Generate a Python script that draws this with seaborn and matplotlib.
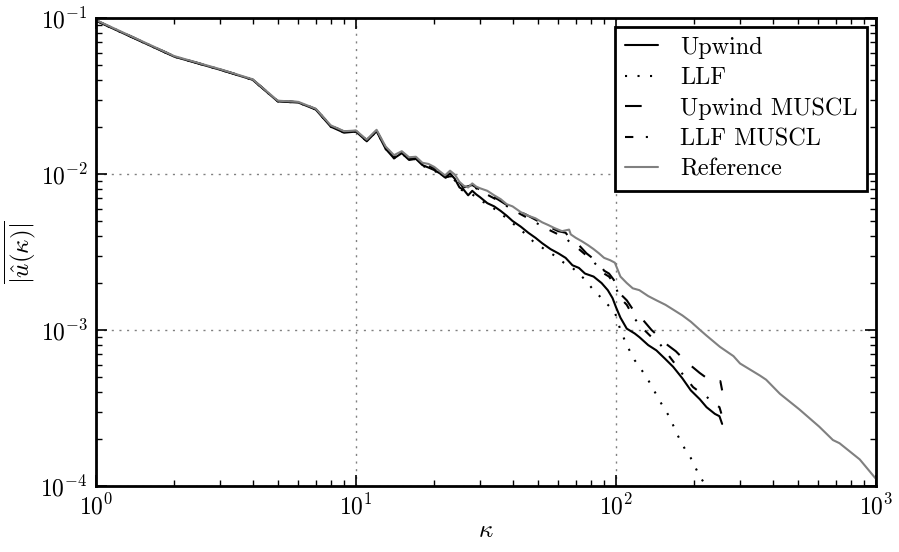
import matplotlib
matplotlib.use("Agg")
import matplotlib.pyplot as plt
import seaborn as sns
import numpy as np
import pandas as pd

# ---------------- data ----------------
k_ref = [1, 2, 3, 4, 5, 6, 7, 8, 9, 10, 11, 12, 13, 14, 15, 16, 17, 18, 19, 20,
         21, 22, 23, 24, 25, 26, 27, 28, 29, 30, 32, 34, 36, 38, 40, 43, 46, 49,
         52, 55, 58, 62, 66, 67, 70, 74, 78, 82, 86, 90, 95, 99, 104, 110, 116,
         123, 133, 143, 155, 166, 180, 194, 212, 223, 251, 283, 300, 358, 378,
         427, 507, 605, 683, 724, 866, 978, 1000]
u_ref = [0.097, 0.057, 0.047, 0.0405, 0.0295, 0.029, 0.0262, 0.0205, 0.0188,
         0.019, 0.0166, 0.0192, 0.0150, 0.0132, 0.0140, 0.0128, 0.0129, 0.0118,
         0.0116, 0.0111, 0.0104, 0.0098, 0.0105, 0.0099, 0.0089, 0.0084, 0.0082,
         0.0087, 0.0083, 0.0081, 0.0078, 0.0073, 0.0069, 0.0064, 0.0062, 0.0057,
         0.0054, 0.0052, 0.0049, 0.0047, 0.0045, 0.0043, 0.0044, 0.0041, 0.0039,
         0.0037, 0.0035, 0.0033, 0.0031, 0.0029, 0.0028, 0.0027, 0.0022, 0.0020,
         0.00185, 0.0018, 0.00165, 0.00155, 0.00145, 0.00135, 0.00124, 0.00113,
         0.00099, 0.00092, 0.00078, 0.00068, 0.00061, 0.00051, 0.00048, 0.00039,
         0.00031, 0.00024, 0.000197, 0.000188, 0.000148, 0.000116, 0.000111]

k_upw = [1, 2, 3, 4, 5, 6, 7, 8, 9, 10, 11, 12, 13, 14, 15, 16, 17, 18, 19, 20,
         21, 22, 23, 24, 25, 26, 27, 28, 29, 30, 32, 34, 36, 38, 40, 43, 46, 49,
         52, 56, 60, 64, 68, 72, 76, 82, 88, 93, 97, 100, 104, 110, 118, 123,
         133, 143, 155, 166, 180, 194, 210, 223, 240, 250, 256]
u_upw = [0.096, 0.0565, 0.0466, 0.0402, 0.0292, 0.0287, 0.0259, 0.0201, 0.0184,
         0.0187, 0.0162, 0.0188, 0.0145, 0.0126, 0.0136, 0.0123, 0.0125, 0.0114,
         0.0110, 0.0106, 0.0101, 0.0095, 0.0101, 0.0093, 0.0082, 0.0079, 0.0073,
         0.0078, 0.0074, 0.0071, 0.0065, 0.0062, 0.0058, 0.0054, 0.0050, 0.0046,
         0.0042, 0.0039, 0.0036, 0.0033, 0.0031, 0.0029, 0.0026, 0.0025, 0.0023,
         0.0022, 0.0020, 0.0018, 0.0016, 0.0014, 0.0012, 0.00102, 0.00095,
         0.00090, 0.00080, 0.00074, 0.00065, 0.00058, 0.00049, 0.00041, 0.00036,
         0.00032, 0.00029, 0.00028, 0.00025]

k_llf = [1, 2, 3, 4, 5, 6, 7, 8, 9, 10, 11, 12, 13, 14, 15, 16, 17, 18, 19, 20,
         21, 22, 23, 24, 25, 28, 30, 33, 36, 39, 43, 48, 53, 58, 63, 68, 72, 76,
         82, 88, 92, 99, 104, 110, 118, 131, 149, 160, 173, 185, 194, 205, 214,
         222]
u_llf = [0.096, 0.0565, 0.0466, 0.0402, 0.0292, 0.0287, 0.0259, 0.0201, 0.0184,
         0.0187, 0.0162, 0.0188, 0.0145, 0.0126, 0.0136, 0.0123, 0.0125, 0.0113,
         0.0109, 0.0105, 0.0100, 0.0094, 0.0099, 0.0091, 0.0080, 0.0074, 0.0068,
         0.0062, 0.0056, 0.0050, 0.0044, 0.0037, 0.0033, 0.0030, 0.0027, 0.0025,
         0.0023, 0.0021, 0.0018, 0.0016, 0.00148, 0.0013, 0.0010, 0.00080,
         0.00064, 0.00050, 0.00034, 0.00028, 0.00021, 0.00017, 0.000151,
         0.000125, 0.00011, 0.0000995]

k_umu = [1, 2, 3, 4, 5, 6, 7, 8, 9, 10, 11, 12, 13, 14, 15, 16, 17, 18, 19, 20,
         22, 24, 26, 28, 30, 35, 40, 45, 50, 55, 60, 64, 68, 72, 77, 81, 86, 90,
         94, 98, 104, 110, 118, 127, 137, 147, 158, 170, 182, 192, 210, 228,
         245, 252, 256]
u_umu = [0.0965, 0.0568, 0.0468, 0.0404, 0.0294, 0.0289, 0.0261, 0.0204,
         0.0187, 0.0189, 0.0165, 0.0190, 0.0148, 0.0130, 0.0138, 0.0126, 0.0127,
         0.0116, 0.0113, 0.0109, 0.0096, 0.0097, 0.0082, 0.0085, 0.0079, 0.0069,
         0.0060, 0.0055, 0.0050, 0.0046, 0.0043, 0.0042, 0.0037, 0.0035, 0.0031,
         0.0029, 0.0027, 0.0024, 0.0023, 0.0021, 0.0017, 0.00155, 0.00130,
         0.00116, 0.00100, 0.00090, 0.00080, 0.00073, 0.00065, 0.00060, 0.00053,
         0.00048, 0.00046, 0.00047, 0.00041]

k_lmu = [1, 2, 3, 4, 5, 6, 7, 8, 9, 10, 11, 12, 13, 14, 15, 16, 17, 18, 19, 20,
         22, 24, 26, 28, 30, 35, 40, 45, 50, 55, 60, 64, 68, 72, 77, 81, 86, 90,
         94, 98, 104, 110, 118, 127, 137, 147, 155, 167, 179, 198, 210, 221,
         232, 243, 250, 256]
u_lmu = [0.0965, 0.0568, 0.0468, 0.0404, 0.0294, 0.0289, 0.0261, 0.0204,
         0.0187, 0.0189, 0.0165, 0.0190, 0.0148, 0.0130, 0.0138, 0.0126, 0.0127,
         0.0116, 0.0113, 0.0109, 0.0096, 0.0096, 0.0081, 0.0084, 0.0078, 0.0068,
         0.0059, 0.0053, 0.0048, 0.0044, 0.0041, 0.0039, 0.0035, 0.0033, 0.0030,
         0.0028, 0.0025, 0.0023, 0.0022, 0.0020, 0.0016, 0.00145, 0.00118,
         0.00102, 0.00090, 0.00082, 0.00073, 0.00062, 0.00053, 0.00043, 0.00040,
         0.00038, 0.00035, 0.00033, 0.00032, 0.00028]

labels = ["Upwind", "LLF", "Upwind MUSCL", "LLF MUSCL", "Reference"]

# ---------------- style ----------------
sns.set_theme(style="ticks")
plt.rcParams.update({
    "font.family": "serif",
    "font.serif": ["cmr10", "DejaVu Serif"],
    "mathtext.fontset": "cm",
    "axes.formatter.use_mathtext": True,
    "axes.unicode_minus": False,
    "axes.linewidth": 2.0,
    "axes.edgecolor": "black",
    "axes.labelcolor": "black",
    "text.color": "black",
    "xtick.color": "black",
    "ytick.color": "black",
    "xtick.direction": "in",
    "ytick.direction": "in",
    "xtick.top": True,
    "ytick.right": True,
})

fig = plt.figure(figsize=(8.99, 5.52), dpi=100)
ax = fig.add_axes([0.1068, 0.1196, 0.9744 - 0.1068, 0.9674 - 0.1196])

LW = 1.5
series = [
    (k_upw, u_upw, dict(color="black", linestyle="-")),
    (k_llf, u_llf, dict(color="black", dashes=(1, 5))),
    (k_umu, u_umu, dict(color="black", dashes=(8, 8))),
    (k_lmu, u_lmu, dict(color="black", dashes=(4, 6, 1, 6))),
    (k_ref, u_ref, dict(color="#808080", linestyle="-")),
]
for (kk, uu, st), lab in zip(series, labels):
    df = pd.DataFrame({"k": kk, "u": uu})
    sns.lineplot(data=df, x="k", y="u", ax=ax, label=lab, linewidth=LW,
                 estimator=None, sort=False, **st)

ax.set_xscale("log")
ax.set_yscale("log")
ax.set_xlim(1, 1000)
ax.set_ylim(1e-4, 1e-1)

ax.grid(True, which="major", color="#808080", linestyle=(0, (1.5, 4)),
        linewidth=1.0)
ax.tick_params(which="major", length=8, width=1.2, labelsize=17, pad=6)
ax.tick_params(which="minor", length=4, width=1.0)

ax.set_xlabel(r"$\kappa$", fontsize=18, labelpad=0)
ax.set_ylabel(r"$\overline{|\hat{u}(\kappa)|}$", fontsize=18, labelpad=1)

leg = ax.legend(loc="upper right", fontsize=17.5, frameon=True, fancybox=False,
                borderaxespad=0.35, handlelength=1.35, handletextpad=0.9,
                labelspacing=0.34, borderpad=0.42)
leg.get_frame().set_edgecolor("black")
leg.get_frame().set_linewidth(2.0)
leg.get_frame().set_alpha(1)

fig.savefig("out.png", dpi=100)
